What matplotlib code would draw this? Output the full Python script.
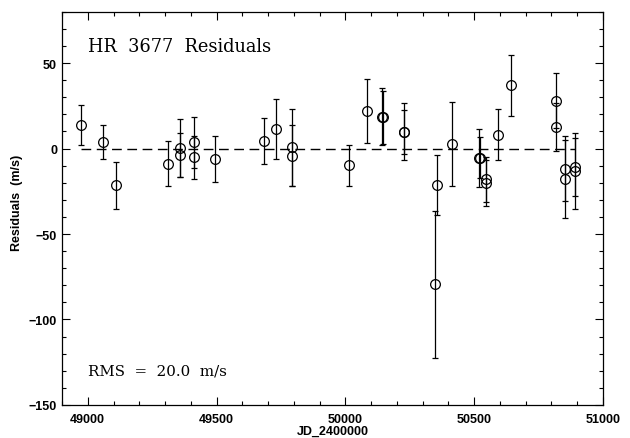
import matplotlib
matplotlib.use('Agg')
import matplotlib.pyplot as plt
from matplotlib.ticker import MultipleLocator

# residuals (JD-2400000, m/s)
jd = [48974, 49058, 49109, 49312, 49358, 49358, 49413, 49413, 49494, 49684,
      49729, 49793, 49793, 50015, 50085, 50143, 50147, 50227, 50229, 50347,
      50355, 50415, 50520, 50522, 50545, 50547, 50594, 50643, 50817, 50817,
      50852, 50852, 50893, 50893]
resid = [14.0, 3.7, -21.6, -8.8, 0.4, -3.9, 3.7, -5.1, -6.0, 4.3,
         11.5, 0.6, -4.1, -9.9, 21.8, 18.7, 18.3, 9.9, 9.7, -79.3,
         -21.2, 2.7, -5.3, -5.5, -18.1, -20.0, 8.0, 36.9, 28.0, 12.6,
         -11.9, -17.7, -10.9, -13.2]
err = [11.7, 10.0, 14.0, 13.3, 16.8, 12.8, 15.0, 12.5, 13.3, 13.6,
       17.7, 22.7, 17.9, 12.0, 18.6, 16.5, 15.5, 16.5, 13.0, 43.0,
       17.5, 24.6, 17.0, 12.0, 13.0, 13.5, 15.0, 17.8, 16.2, 14.2,
       19.0, 22.7, 17.0, 22.0]

title = 'HR  3677  Residuals'
rms_text = 'RMS  =  20.0  m/s'

fig = plt.figure(figsize=(6.3, 4.39), dpi=100)
ax = fig.add_axes([0.0984, 0.0752, 0.8586, 0.8958])

ax.errorbar(jd, resid, yerr=err, fmt='o', mfc='none', mec='k', ms=7,
            mew=0.9, ecolor='k', elinewidth=0.9, capsize=2, capthick=0.9)
ax.plot([min(jd), max(jd)], [0, 0], color='k', lw=1, dashes=(7, 4))

ax.set_xlim(48900, 51000)
ax.set_ylim(-150, 80)
ax.xaxis.set_major_locator(MultipleLocator(500))
ax.xaxis.set_minor_locator(MultipleLocator(100))
ax.yaxis.set_major_locator(MultipleLocator(50))
ax.yaxis.set_minor_locator(MultipleLocator(10))
ax.tick_params(which='both', direction='in', top=True, right=True, width=0.8)
ax.tick_params(which='major', length=6)
ax.tick_params(which='minor', length=3)
ax.tick_params(axis='x', pad=6)
ax.tick_params(axis='y', pad=3.5)
for lab in ax.get_xticklabels() + ax.get_yticklabels():
    lab.set_fontfamily('Liberation Sans')
    lab.set_fontweight('bold')
    lab.set_fontsize(9)
for s in ax.spines.values():
    s.set_linewidth(0.9)

ax.set_xlabel('JD_2400000', fontfamily='Liberation Sans', fontweight='bold', fontsize=9)
ax.set_ylabel('Residuals  (m/s)', fontfamily='Liberation Sans', fontweight='bold', fontsize=9)
ax.xaxis.set_label_coords(0.5, -0.05)
ax.yaxis.set_label_coords(-0.072, 0.516)

ax.text(0.048, 0.913, title, transform=ax.transAxes, fontfamily='DejaVu Serif',
        fontsize=12.8, va='center', ha='left')
ax.text(0.048, 0.0865, rms_text, transform=ax.transAxes, fontfamily='DejaVu Serif',
        fontsize=10.8, va='center', ha='left')

fig.savefig('out.png', dpi=100)
